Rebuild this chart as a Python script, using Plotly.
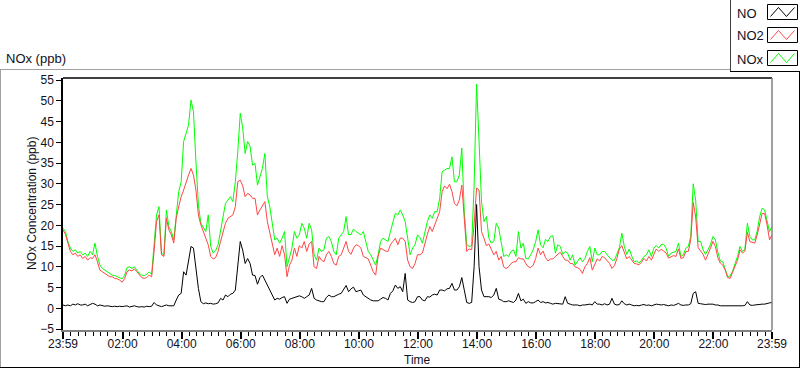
import plotly.graph_objects as go
import pandas as pd

# ---------------- data (5-minute samples) ----------------
START_TIME = "2021-03-01 23:59"
SAMPLE_MINUTES = 5

no_ppb = [
    0.8, 0.6, 0.8, 0.6, 1.0, 0.8, 1.1, 0.8, 0.8, 1.0, 0.6, 1.0,
    1.2, 1.0, 0.6, 0.8, 0.6, 0.5, 0.6, 0.5, 0.4, 0.5, 0.4, 0.5,
    0.4, 0.5, 0.6, 0.3, 0.4, 0.6, 0.4, 0.3, 0.4, 0.3, 0.5, 0.4,
    0.5, 1.4, 0.8, 0.5, 0.4, 0.6, 0.8, 0.6, 0.6, 0.6, 2.0, 3.2,
    3.6, 8.8, 8.0, 11.2, 14.9, 14.5, 8.8, 4.8, 1.6, 1.1, 1.3, 1.1,
    1.2, 1.0, 1.1, 1.3, 2.4, 2.0, 3.2, 2.8, 3.4, 3.6, 4.4, 11.2,
    16.1, 14.0, 10.8, 12.0, 10.8, 8.0, 7.9, 5.8, 7.4, 8.0, 6.8, 5.6,
    4.8, 3.2, 2.0, 2.4, 2.2, 2.6, 2.8, 1.2, 2.2, 2.4, 2.6, 2.8,
    3.0, 2.8, 2.4, 2.8, 3.2, 4.8, 2.4, 2.0, 1.8, 1.6, 1.6, 2.6,
    3.2, 2.8, 2.8, 3.2, 3.4, 3.6, 4.4, 5.5, 4.0, 4.7, 5.1, 4.0,
    4.2, 4.4, 3.2, 2.8, 2.2, 2.0, 1.8, 1.8, 1.8, 2.2, 2.6, 2.4,
    2.0, 3.6, 4.2, 5.6, 4.8, 5.2, 4.0, 8.4, 2.0, 1.6, 1.4, 1.6,
    2.8, 2.8, 2.0, 1.8, 2.8, 2.7, 3.2, 3.4, 3.2, 4.4, 4.4, 4.2,
    4.7, 4.8, 6.0, 4.4, 4.4, 5.2, 7.4, 4.4, 1.4, 1.2, 1.4, 10.0,
    25.0, 10.0, 4.4, 2.8, 2.8, 2.8, 2.6, 3.2, 4.8, 2.2, 2.0, 1.6,
    1.6, 1.8, 1.6, 1.4, 2.0, 3.6, 1.8, 2.2, 1.2, 1.6, 1.3, 1.3,
    1.6, 2.0, 1.4, 1.6, 1.3, 1.4, 1.2, 1.0, 1.2, 1.1, 1.1, 1.0,
    2.8, 1.2, 1.0, 0.8, 0.8, 0.8, 0.6, 0.8, 0.8, 0.9, 1.0, 0.8,
    1.6, 1.0, 1.0, 0.8, 1.1, 0.8, 1.0, 2.4, 1.0, 0.8, 0.9, 1.8,
    1.1, 0.8, 1.0, 0.8, 0.6, 0.7, 0.6, 0.8, 0.9, 0.7, 0.8, 0.6,
    0.8, 1.0, 0.9, 0.8, 0.9, 0.8, 0.6, 0.8, 0.7, 0.9, 1.2, 0.8,
    0.7, 0.8, 0.8, 1.1, 3.6, 4.0, 1.2, 1.1, 1.0, 0.9, 1.0, 1.0,
    1.0, 0.8, 0.8, 0.6, 0.6, 0.6, 0.6, 0.5, 0.6, 0.6, 0.6, 0.6,
    0.6, 0.7, 1.6, 0.8, 0.7, 0.8, 0.9, 1.0, 1.0, 1.0, 1.2, 1.3,
    1.4,
]

no2_ppb = [
    18.9, 17.8, 15.7, 13.7, 12.9, 13.3, 12.5, 12.9, 12.0, 12.5, 11.6, 12.2,
    12.0, 12.9, 11.2, 9.2, 8.8, 8.4, 8.0, 7.6, 7.6, 7.2, 7.1, 6.8,
    6.3, 7.1, 8.8, 9.2, 9.0, 9.5, 8.8, 8.0, 7.4, 7.2, 7.4, 8.0,
    7.6, 13.7, 20.9, 22.5, 12.9, 12.5, 21.7, 18.9, 17.7, 15.7, 21.7, 24.5,
    26.9, 28.5, 30.5, 32.1, 33.7, 32.1, 28.5, 22.5, 20.1, 18.5, 17.3, 15.3,
    12.5, 11.9, 12.2, 13.7, 16.1, 18.5, 20.5, 21.7, 22.1, 22.5, 24.5, 30.5,
    30.9, 29.5, 26.9, 27.7, 27.3, 26.5, 26.5, 22.5, 23.7, 24.9, 25.7, 20.9,
    18.1, 15.3, 12.9, 14.5, 12.5, 15.1, 12.9, 7.6, 10.4, 11.6, 14.5, 12.5,
    15.1, 14.5, 16.1, 13.7, 15.5, 16.1, 10.0, 9.6, 12.5, 11.6, 11.2, 12.9,
    13.7, 12.5, 10.8, 10.4, 12.5, 12.9, 14.5, 16.1, 13.7, 13.0, 14.5, 15.3,
    15.1, 14.5, 12.5, 12.2, 11.9, 10.4, 8.8, 8.0, 12.5, 14.5, 14.1, 13.8,
    13.7, 15.3, 16.1, 16.9, 15.3, 16.9, 16.9, 16.1, 11.6, 10.0, 9.6, 10.8,
    12.9, 12.9, 13.3, 15.7, 17.8, 19.7, 18.5, 20.1, 21.7, 23.3, 28.1, 29.5,
    28.8, 29.9, 28.1, 25.3, 24.7, 26.1, 29.7, 21.7, 13.7, 14.3, 14.1, 20.1,
    29.0, 28.5, 18.5, 16.9, 15.1, 15.5, 14.1, 12.9, 13.7, 11.6, 12.5, 10.0,
    9.6, 10.0, 10.8, 11.2, 11.2, 12.2, 11.9, 11.9, 10.8, 10.0, 9.8, 10.4,
    12.0, 14.5, 12.9, 13.8, 12.2, 11.4, 11.9, 11.9, 12.5, 12.9, 13.5, 12.5,
    11.6, 11.6, 10.8, 10.8, 10.0, 9.8, 9.4, 8.4, 10.0, 10.8, 12.2, 9.2,
    10.8, 11.9, 11.4, 12.5, 12.2, 11.6, 10.8, 9.6, 10.3, 12.0, 14.3, 15.1,
    13.7, 11.9, 12.5, 11.7, 10.8, 10.7, 10.5, 11.1, 12.0, 11.4, 12.5, 11.6,
    12.9, 14.3, 13.7, 14.2, 13.8, 13.3, 12.1, 12.5, 12.7, 12.5, 14.3, 12.0,
    12.2, 13.7, 13.7, 16.5, 25.5, 22.0, 14.6, 13.8, 13.0, 11.6, 12.9, 14.5,
    16.1, 14.9, 12.2, 10.9, 10.4, 9.2, 7.4, 7.2, 8.7, 10.3, 11.6, 14.1,
    13.3, 13.8, 18.3, 16.1, 15.9, 15.7, 17.7, 20.5, 22.9, 22.8, 20.1, 16.5,
    17.7,
]

nox_ppb = [
    19.3, 18.5, 16.1, 14.5, 13.7, 14.1, 13.3, 13.7, 12.9, 13.3, 12.5, 13.7,
    12.9, 15.7, 12.5, 10.4, 9.6, 9.2, 8.8, 8.2, 8.0, 7.9, 7.6, 7.5,
    7.1, 7.9, 9.8, 10.0, 9.6, 10.0, 9.2, 8.4, 8.0, 7.9, 8.2, 8.8,
    8.2, 16.1, 22.5, 24.5, 13.3, 12.9, 23.7, 19.7, 18.5, 16.5, 22.1, 28.1,
    30.5, 40.2, 42.2, 44.2, 50.2, 47.4, 35.3, 24.9, 20.5, 19.3, 18.5, 22.5,
    14.9, 13.3, 13.9, 15.3, 18.5, 21.3, 25.3, 26.1, 26.9, 25.7, 30.5, 37.8,
    47.0, 43.5, 37.3, 40.2, 39.0, 34.5, 34.9, 29.7, 31.7, 33.7, 37.3, 26.9,
    24.5, 20.9, 16.5, 16.9, 15.7, 16.9, 18.5, 10.0, 12.5, 14.5, 18.5, 16.9,
    17.7, 20.5, 19.3, 16.9, 20.5, 18.9, 12.9, 11.6, 14.5, 13.7, 14.1, 16.9,
    17.3, 16.1, 13.7, 12.9, 16.9, 17.7, 18.5, 22.1, 17.7, 17.8, 19.1, 18.5,
    18.1, 17.7, 18.5, 16.1, 13.7, 12.9, 11.6, 10.4, 12.9, 16.1, 16.9, 16.5,
    16.1, 18.5, 20.5, 22.9, 22.5, 23.7, 22.5, 20.9, 16.9, 12.9, 14.5, 15.3,
    17.7, 17.0, 15.7, 18.5, 20.9, 22.5, 21.7, 23.3, 23.3, 26.5, 32.9, 33.3,
    33.7, 33.7, 36.5, 30.5, 30.5, 32.1, 38.6, 23.3, 15.3, 14.9, 15.1, 29.7,
    54.0, 40.2, 25.7, 20.9, 22.1, 16.9, 15.7, 16.1, 20.5, 19.3, 15.3, 12.5,
    12.9, 12.5, 13.7, 14.1, 12.5, 18.5, 14.5, 15.7, 12.0, 11.9, 12.9, 14.1,
    16.1, 18.9, 15.3, 14.6, 16.6, 16.1, 17.3, 17.5, 13.3, 15.3, 14.9, 13.0,
    13.7, 13.3, 11.6, 12.9, 10.4, 11.2, 12.2, 11.2, 12.0, 13.7, 14.9, 11.2,
    14.5, 12.9, 12.9, 13.7, 13.7, 12.9, 12.2, 11.6, 11.6, 12.9, 14.6, 18.1,
    14.9, 13.0, 14.3, 12.6, 11.2, 11.4, 10.9, 11.6, 12.5, 12.9, 14.1, 12.5,
    14.5, 15.1, 14.5, 15.4, 15.4, 14.5, 12.5, 13.3, 13.5, 13.7, 15.7, 12.5,
    12.9, 14.5, 14.9, 17.3, 30.0, 26.0, 16.1, 16.1, 14.1, 13.0, 14.1, 15.3,
    17.3, 16.5, 13.5, 11.4, 11.2, 9.6, 7.6, 7.8, 9.0, 10.8, 12.5, 14.9,
    13.7, 14.3, 20.5, 17.3, 16.5, 16.5, 18.6, 22.1, 24.1, 23.7, 21.3, 18.5,
    19.7,
]

tick_labels = ["23:59", "02:00", "04:00", "06:00", "08:00", "10:00", "12:00",
               "14:00", "16:00", "18:00", "20:00", "22:00", "23:59"]
tick_times = ["2021-03-01 23:59", "2021-03-02 02:00", "2021-03-02 04:00",
              "2021-03-02 06:00", "2021-03-02 08:00", "2021-03-02 10:00",
              "2021-03-02 12:00", "2021-03-02 14:00", "2021-03-02 16:00",
              "2021-03-02 18:00", "2021-03-02 20:00", "2021-03-02 22:00",
              "2021-03-02 23:59"]

series_names = ["NO", "NO2", "NOx"]
series_colors = ["#000000", "#ff4545", "#00ff00"]

times = pd.date_range(START_TIME, periods=len(no_ppb), freq=f"{SAMPLE_MINUTES}min")

# ---------------- figure ----------------
W, H = 800, 369
L, R, T, B = 63, 772, 78, 330   # plot area in pixels


def px(x):
    return (x - L) / (R - L)


def py(y):
    return (B - y) / (B - T)


FONT = "Liberation Sans, Arial, sans-serif"
TXT = "#111122"

fig = go.Figure()
for name, vals, col in [("NOx", nox_ppb, series_colors[2]),
                        ("NO2", no2_ppb, series_colors[1]),
                        ("NO", no_ppb, series_colors[0])]:
    fig.add_trace(go.Scatter(x=times, y=vals, mode="lines", name=name,
                             line=dict(color=col, width=1), showlegend=False))

shapes = []
# outer frame
shapes.append(dict(type="line", xref="paper", yref="paper", x0=px(0), x1=px(730), y0=py(69.5), y1=py(69.5),
                   line=dict(color="#a0a0a0", width=1)))
shapes.append(dict(type="line", xref="paper", yref="paper", x0=px(0.5), x1=px(0.5), y0=py(69.5), y1=py(367.5),
                   line=dict(color="#a0a0a0", width=1)))
shapes.append(dict(type="line", xref="paper", yref="paper", x0=px(0), x1=px(800), y0=py(367.5), y1=py(367.5),
                   line=dict(color="#000000", width=1)))
shapes.append(dict(type="line", xref="paper", yref="paper", x0=px(799.5), x1=px(799.5), y0=py(72), y1=py(367.5),
                   line=dict(color="#000000", width=1)))
# plot area borders: top black, right grey
shapes.append(dict(type="line", xref="paper", yref="paper", x0=0, x1=1, y0=1, y1=1,
                   line=dict(color="#000000", width=1.5)))
shapes.append(dict(type="line", xref="paper", yref="paper", x0=1, x1=1, y0=0, y1=1,
                   line=dict(color="#808080", width=1.5)))
# legend panel
shapes.append(dict(type="line", xref="paper", yref="paper", x0=px(730.5), x1=px(730.5), y0=py(0), y1=py(71.5),
                   line=dict(color="#404040", width=1)))
shapes.append(dict(type="line", xref="paper", yref="paper", x0=px(730), x1=px(800), y0=py(71.5), y1=py(71.5),
                   line=dict(color="#000000", width=1)))

annotations = []
rows = [(13, 4.5, 19.5), (36, 27.5, 42.5), (59, 50.5, 65.5)]
for (yc, y0, y1), name, col in zip(rows, series_names, series_colors):
    annotations.append(dict(text=name, xref="paper", yref="paper", x=px(735), y=py(yc),
                            xanchor="left", yanchor="middle", showarrow=False,
                            font=dict(family=FONT, size=13, color=TXT)))
    x0, x1 = 767.5, 797.5
    shapes.append(dict(type="rect", xref="paper", yref="paper", x0=px(x0), x1=px(x1), y0=py(y0), y1=py(y1),
                       line=dict(color="#000000", width=1), fillcolor="white"))
    pts = [(x0 + 3, y1 - 3), (x0 + 11, y0 + 3), (x0 + 19, y1 - 3), (x1 - 3, y0 + 3)]
    path = "M " + " L ".join(f"{px(a):.5f},{py(b):.5f}" for a, b in pts)
    shapes.append(dict(type="path", xref="paper", yref="paper", path=path,
                       line=dict(color=col, width=1)))

annotations.append(dict(text="NOx (ppb)", xref="paper", yref="paper", x=px(4), y=py(58),
                        xanchor="left", yanchor="middle", showarrow=False,
                        font=dict(family=FONT, size=13, color=TXT)))
annotations.append(dict(text="Time", xref="paper", yref="paper", x=0.5, y=py(360),
                        xanchor="center", yanchor="middle", showarrow=False,
                        font=dict(family=FONT, size=12, color=TXT)))
annotations.append(dict(text="NOx Concentration (ppb)", xref="paper", yref="paper", x=px(32), y=0.5,
                        xanchor="center", yanchor="middle", textangle=-90, showarrow=False,
                        font=dict(family=FONT, size=12, color=TXT)))

fig.update_layout(
    width=W, height=H,
    margin=dict(l=L, r=W - R, t=T, b=H - B, pad=0),
    paper_bgcolor="white", plot_bgcolor="white",
    showlegend=False,
    shapes=shapes, annotations=annotations,
    xaxis=dict(type="date", range=[times[0], times[-1]],
               tickmode="array", tickvals=tick_times, ticktext=tick_labels,
               ticks="outside", ticklen=7, tickwidth=2, tickcolor="#000000",
               ticklabelstandoff=-5,
               showgrid=False, zeroline=False,
               showline=True, linecolor="#808080", linewidth=1.5,
               tickfont=dict(family=FONT, size=12, color=TXT),
               minor=dict(ticks="outside", ticklen=4, tickwidth=1, tickcolor="#000000",
                          tick0="2021-03-02 00:00", dtick=15 * 60 * 1000, showgrid=False)),
    yaxis=dict(range=[-5.23, 55.5], tickmode="linear", tick0=0, dtick=5,
               ticks="outside", ticklen=5, tickwidth=1, tickcolor="#000000",
               showgrid=False, zeroline=False,
               showline=True, linecolor="#000000", linewidth=1.5,
               tickfont=dict(family=FONT, size=12, color=TXT)),
)

fig.write_html("out.html", config={"displayModeBar": False})

# remove the browser's default page margin so the figure sits at (0, 0)
with open("out.html", "r", encoding="utf-8") as f:
    html = f.read()
html = html.replace("<head>", "<head><style>html,body{margin:0;padding:0;overflow:hidden;}</style>", 1)
with open("out.html", "w", encoding="utf-8") as f:
    f.write(html)
